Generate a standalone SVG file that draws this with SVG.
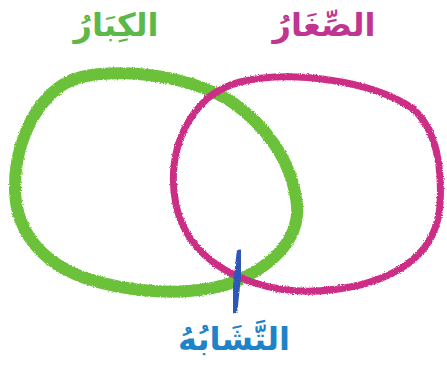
<svg xmlns="http://www.w3.org/2000/svg" width="447" height="365" viewBox="0 0 447 365">
<defs>
<filter id="crayon" x="-10%" y="-10%" width="120%" height="120%">
<feTurbulence type="fractalNoise" baseFrequency="0.9" numOctaves="2" seed="3" result="n"/>
<feDisplacementMap in="SourceGraphic" in2="n" scale="3" xChannelSelector="R" yChannelSelector="G"/>
</filter>
<style>
.lbl{font-family:"DejaVu Sans","Noto Sans",sans-serif;font-weight:bold;font-size:32px;text-anchor:middle}
.ring{fill:none;stroke-linecap:round;stroke-linejoin:round;filter:url(#crayon)}
</style>
</defs>
<rect width="447" height="365" fill="#ffffff"/>
<g id="sets">
<g id="big">
<path class="ring" stroke="#6cc13a" stroke-width="12" d="M100,74 C150,70 200,82 232,102 C265,125 292,160 297,205 C300,240 270,270 225,285 C185,296 130,293 85,278 C40,262 16,230 15,190 C14,150 30,110 58,88 C70,79 85,75 100,74 Z"/>
</g>
<g id="small">
<path class="ring" stroke="#cc2f86" stroke-width="7" d="M240,82 C290,70 370,80 412,108 C438,130 442,170 440,205 C437,245 410,272 360,285 C320,294 285,293 255,283 C215,270 185,245 176,205 C168,165 178,125 208,98 C218,90 228,85 240,82 Z"/>
</g>
<g id="similar">
<line class="ring" x1="240" y1="253" x2="234" y2="310" stroke="#2f56b8" stroke-width="7"/>
</g>
</g>
<g id="labels">
<text class="lbl" x="116" y="36" fill="#5cb848">الكِبَارُ</text>
<text class="lbl" x="324" y="36" fill="#c03592">الصِّغَارُ</text>
<text class="lbl" x="234" y="350" fill="#1f83c8">التَّشَابُهُ</text>
</g>
</svg>
